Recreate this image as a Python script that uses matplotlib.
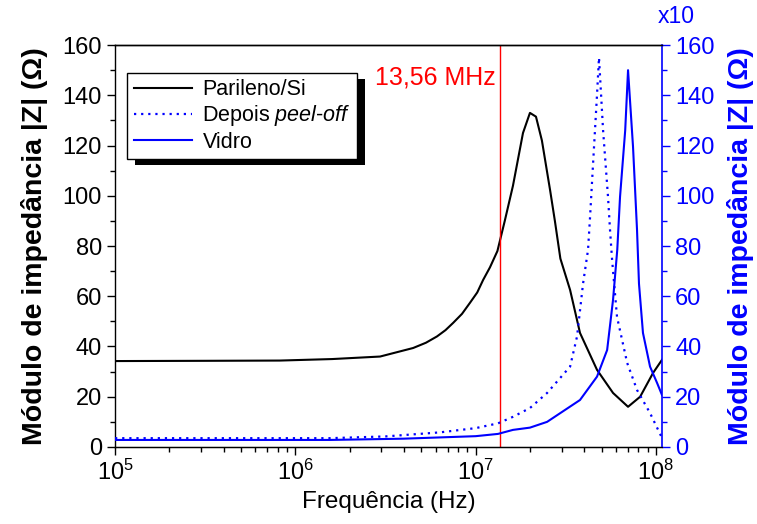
import numpy as np
import matplotlib
matplotlib.use('Agg')
import matplotlib.pyplot as plt
from matplotlib.patches import Rectangle
from matplotlib.ticker import LogLocator, MultipleLocator, NullFormatter

plt.rcParams['font.family'] = ['Liberation Sans', 'DejaVu Sans']
plt.rcParams['mathtext.fontset'] = 'custom'
plt.rcParams['mathtext.rm'] = 'Liberation Sans'
plt.rcParams['mathtext.it'] = 'Liberation Sans:italic'

# Parileno/Si (left axis, Ohm)
f_par = [1.0e5, 3.2e5, 8.2e5, 1.6e6, 2.95e6, 4.5e6, 5.3e6, 6.1e6, 6.8e6, 7.5e6,
         8.4e6, 9.3e6, 1.02e7, 1.1e7, 1.2e7, 1.32e7, 1.45e7, 1.61e7, 1.83e7,
         2.0e7, 2.16e7, 2.33e7, 2.59e7, 2.75e7, 2.95e7, 3.34e7, 3.79e7, 4.71e7,
         5.78e7, 7.0e7, 8.17e7, 9.64e7, 1.08e8]
z_par = [34.2, 34.3, 34.4, 35.0, 36.0, 39.4, 41.5, 44.0, 46.5, 49.4,
         53.0, 57.4, 61.5, 66.5, 71.5, 78.0, 90.0, 104.0, 125.0,
         133.0, 131.5, 122.0, 102.0, 90.0, 75.0, 62.5, 45.4, 30.7,
         21.5, 16.0, 20.0, 29.5, 34.7]

# Depois peel-off (right axis, x10 Ohm)
f_peel = [1.0e5, 1.55e6, 3.16e6, 6.31e6, 1.0e7, 1.33e7, 1.61e7, 2.0e7, 2.49e7,
          3.34e7, 3.65e7, 3.94e7, 4.2e7, 4.31e7, 4.48e7, 4.7e7, 4.83e7, 5.09e7,
          5.42e7, 5.56e7, 5.71e7, 6.08e7, 6.92e7, 7.85e7, 9.27e7, 1.08e8]
z_peel = [3.5, 3.5, 4.2, 5.8, 7.5, 9.4, 12.0, 15.5, 21.5,
          32.0, 44.0, 65.0, 78.5, 91.6, 113.0, 139.0, 155.0, 126.0,
          99.6, 86.5, 74.5, 51.8, 33.5, 22.7, 13.5, 3.6]

# Vidro (right axis, x10 Ohm)
f_vid = [1.0e5, 1.55e6, 3.98e6, 1.0e7, 1.33e7, 1.61e7, 2.0e7, 2.49e7, 3.79e7,
         4.71e7, 5.36e7, 5.78e7, 6.1e7, 6.32e7, 6.75e7, 7.0e7, 7.46e7, 7.85e7,
         8.05e7, 8.47e7, 9.27e7, 1.014e8, 1.08e8]
z_vid = [2.8, 2.8, 3.3, 4.3, 5.2, 6.8, 7.7, 10.0, 18.7,
         28.0, 38.6, 58.6, 78.5, 99.6, 126.0, 150.0, 119.5, 86.5,
         65.0, 45.4, 32.0, 25.5, 20.7]

f_marker = 13.56e6
BLUE = '#0000FF'
RED = '#FF0000'

fig = plt.figure(figsize=(7.57, 5.24), dpi=100)
ax = fig.add_axes([0.152, 0.147, 0.7225, 0.767])
ax2 = ax.twinx()

l1, = ax.plot(f_par, z_par, color='black', lw=1.5, label='Parileno/Si')
ax.axvline(f_marker, color=RED, lw=1.0)
ax.text(1.30e7, 147, '13,56 MHz', color=RED, fontsize=18, ha='right', va='center')

l2, = ax2.plot(f_peel, z_peel, color=BLUE, lw=1.6, ls=(0, (1, 2.2)),
               label='Depois $\\it{peel}$-$\\it{off}$')
l3, = ax2.plot(f_vid, z_vid, color=BLUE, lw=1.5, label='Vidro')

ax.set_xscale('log')
ax.set_xlim(1e5, 1.08e8)
ax.set_ylim(0, 160)
ax2.set_ylim(0, 160)

ax.yaxis.set_major_locator(MultipleLocator(20))
ax.yaxis.set_minor_locator(MultipleLocator(10))
ax2.yaxis.set_major_locator(MultipleLocator(20))
ax2.yaxis.set_minor_locator(MultipleLocator(10))
ax.xaxis.set_major_locator(LogLocator(base=10, numticks=10))
ax.xaxis.set_minor_locator(LogLocator(base=10, subs=np.arange(2, 10), numticks=20))
ax.xaxis.set_minor_formatter(NullFormatter())

ax.tick_params(axis='both', which='major', labelsize=17, length=6, width=1, direction='out')
ax.tick_params(axis='both', which='minor', length=3.5, width=1, direction='out')
ax.tick_params(axis='y', right=False)
ax2.tick_params(axis='y', which='major', labelsize=17, length=6, width=1, direction='out',
                colors=BLUE)
ax2.tick_params(axis='y', which='minor', length=3.5, width=1, direction='out', colors=BLUE)
ax2.tick_params(axis='x', which='both', top=True, bottom=False, labeltop=False,
                labelbottom=False, direction='in')
ax2.tick_params(axis='x', which='major', length=6, width=1)
ax2.tick_params(axis='x', which='minor', length=3.5, width=1)

for s in ax.spines.values():
    s.set_linewidth(1.0)
ax.spines['right'].set_visible(False)
ax2.spines['left'].set_visible(False)
ax2.spines['right'].set_color(BLUE)
ax2.spines['right'].set_linewidth(1.2)
ax2.spines['top'].set_linewidth(1.0)

ax.set_xlabel('Frequência (Hz)', fontsize=17.5, labelpad=4)
ax.set_ylabel('Módulo de impedância |Z| (Ω)', fontsize=20.5, fontweight='bold', labelpad=10)
ax2.set_ylabel('Módulo de impedância |Z| (Ω)', fontsize=20.5, fontweight='bold',
               color=BLUE, labelpad=9)
ax2.text(1.026, 1.07, 'x10', transform=ax.transAxes, color=BLUE, fontsize=16.5,
         ha='center', va='center')

leg = ax2.legend(handles=[l1, l2, l3], loc='upper left', bbox_to_anchor=(0.022, 0.931),
                 borderaxespad=0, fontsize=15.5, fancybox=False, framealpha=1,
                 edgecolor='black', handlelength=2.7, labelspacing=0.15,
                 borderpad=0.3, handletextpad=0.5)
leg.get_frame().set_linewidth(1.0)
leg.set_zorder(10)

fig.canvas.draw()
bb = leg.get_window_extent()
shadow = Rectangle((bb.x0 + 8, bb.y0 - 6), bb.width, bb.height, transform=None,
                   facecolor='black', edgecolor='none', zorder=9, clip_on=False)
ax2.add_artist(shadow)

fig.savefig('out.png', dpi=100)
